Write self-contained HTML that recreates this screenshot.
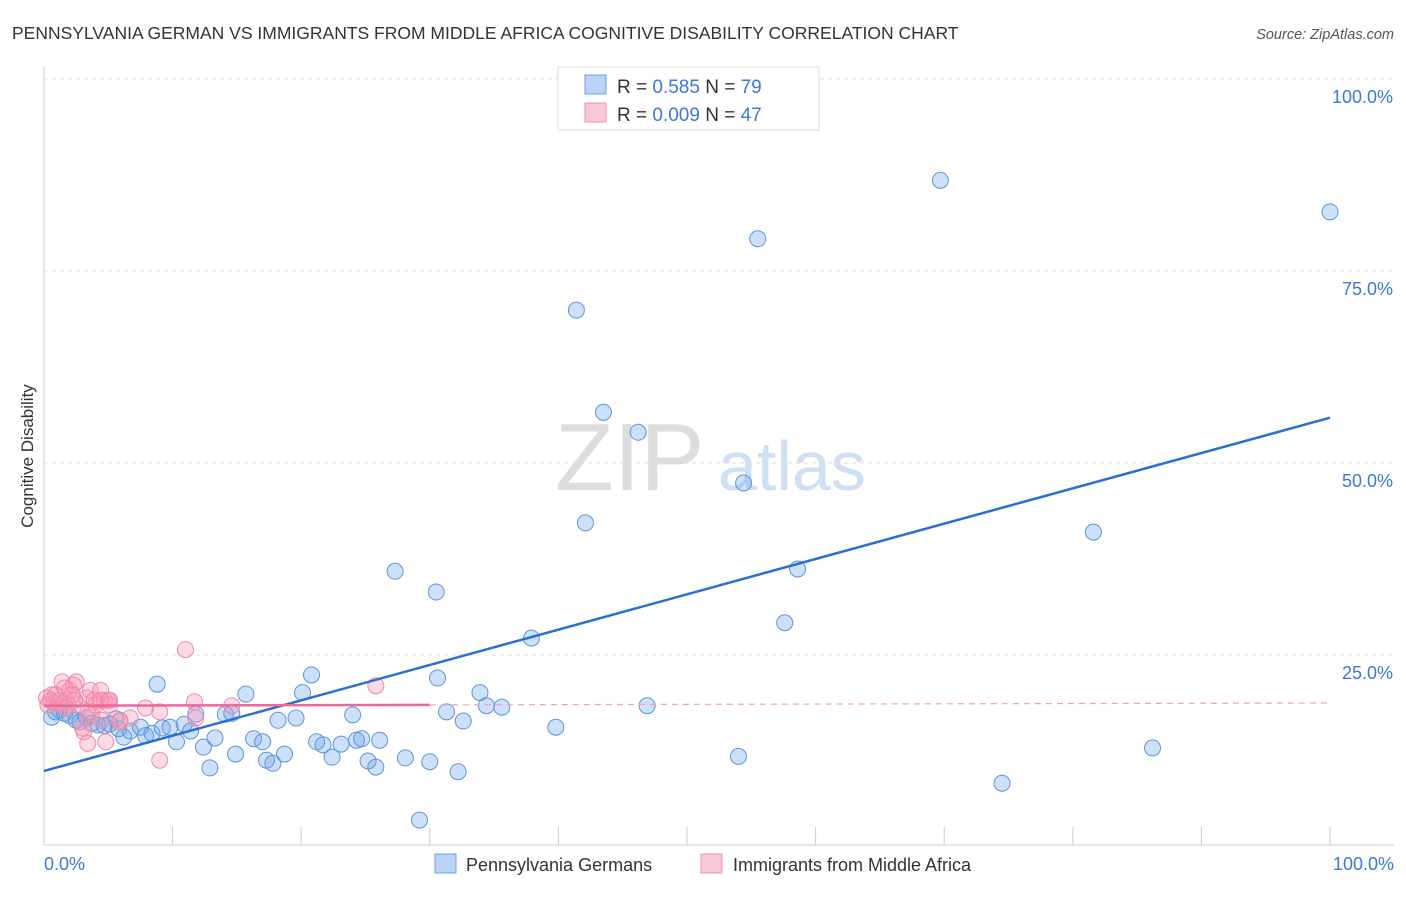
<!DOCTYPE html>
<html><head><meta charset="utf-8"><style>
body{margin:0;background:#fff;font-family:"Liberation Sans",sans-serif;}
svg text{font-family:"Liberation Sans",sans-serif;}
</style></head><body>
<svg id="c" width="1406" height="892" xmlns="http://www.w3.org/2000/svg">
<text x="12" y="39" font-size="17.5" fill="#333">PENNSYLVANIA GERMAN VS IMMIGRANTS FROM MIDDLE AFRICA COGNITIVE DISABILITY CORRELATION CHART</text>
<text x="1394" y="39" font-size="14.5" fill="#555" font-style="italic" text-anchor="end">Source: ZipAtlas.com</text>
<text x="555" y="490" font-size="96" fill="#ddd" font-family="Liberation Serif">ZIP</text>
<text x="718" y="490" font-size="70" fill="#cfe0f4">atlas</text>
<g id="grid"></g><g id="axes"></g><g id="pts"></g><g id="trend"></g>
<text transform="translate(33,456) rotate(-90)" font-size="17" fill="#333" text-anchor="middle">Cognitive Disability</text>
<g>
<rect x="558" y="67" width="261" height="63" fill="#fff" stroke="#ddd"/>
<rect x="585" y="75" width="21" height="19" fill="#b8d3f5" stroke="#6fa0e0"/>
<rect x="585" y="103" width="21" height="19" fill="#f9c9d8" stroke="#f08fb0"/>
<text x="617" y="93" font-size="19" fill="#333">R = <tspan fill="#3b78d8">0.585</tspan>   N = <tspan fill="#3b78d8">79</tspan></text>
<text x="617" y="121" font-size="19" fill="#333">R = <tspan fill="#3b78d8">0.009</tspan>   N = <tspan fill="#3b78d8">47</tspan></text>
</g>
<g>
<rect x="435" y="854" width="21" height="19" fill="#b8d3f5" stroke="#6fa0e0"/>
<text x="466" y="871" font-size="18" fill="#333">Pennsylvania Germans</text>
<rect x="701" y="854" width="21" height="19" fill="#f9c9d8" stroke="#f08fb0"/>
<text x="733" y="871" font-size="18" fill="#333">Immigrants from Middle Africa</text>
</g>
</svg>
<script>
const blueX=[0.6,0.9,1.2,1.6,2.0,2.5,2.8,3.3,3.7,4.2,4.7,5.1,5.6,5.8,6.2,6.7,7.5,7.9,8.4,8.8,9.2,9.8,10.3,10.9,11.4,11.8,12.4,12.9,13.3,14.1,14.6,14.9,15.7,16.3,17.0,17.3,17.8,18.2,18.7,19.6,20.1,20.8,21.2,21.7,22.4,23.1,24.0,24.3,24.7,25.2,25.8,26.1,27.3,28.1,29.2,30.0,30.5,30.6,31.3,32.2,32.6,33.9,34.4,35.6,37.9,39.8,41.4,42.1,43.5,46.2,46.9,54.0,54.4,55.5,57.6,58.6,69.7,74.5,81.6,86.2,100];
const blueY=[16.9,17.6,17.8,17.4,17.1,16.5,16.3,16.8,16.1,15.9,15.8,16.0,16.7,15.4,14.3,15.1,15.6,14.5,14.8,21.2,15.5,15.6,13.7,16.0,15.1,17.3,13.0,10.3,14.2,17.3,17.4,12.1,19.9,14.1,13.7,11.3,10.9,16.5,12.1,16.8,20.1,22.4,13.7,13.3,11.7,13.4,17.2,13.9,14.1,11.2,10.4,13.9,35.9,11.6,3.5,11.1,33.2,22.0,17.6,9.8,16.4,20.1,18.4,18.2,27.2,15.6,69.9,42.2,56.6,54.0,18.4,11.8,47.4,79.2,29.2,36.2,86.8,8.3,41.0,12.9,82.7];
const pinkX=[0.2,0.5,0.8,1.1,1.4,1.7,2.0,2.3,2.5,2.6,3.0,3.1,3.3,3.4,3.6,3.7,3.9,4.0,4.4,4.5,4.7,4.8,5.0,5.1,5.9,6.7,7.9,9.0,11.0,11.7,11.8,14.6,25.8,9.0,1.6,1.9,2.2,0.9,1.2,0.3,0.6,3.4,4.4,5.1,5.9,2.4,1.7];
const pinkY=[19.4,19.1,18.8,18.6,21.5,19.1,20.4,21.1,21.5,18.5,15.5,15.0,19.4,13.5,20.4,17.2,19.1,18.5,20.4,16.5,19.1,13.7,19.1,19.1,16.5,16.8,18.1,17.6,25.7,18.9,16.8,18.4,21.0,11.3,20.7,18.5,19.8,19.8,19.1,18.5,19.8,17.6,19.1,18.5,16.3,19.1,18.1];
const blueTrend=[9.9,55.9];
const pinkTrend=[18.4,18.75];
const yTicks=[25,50,75,100];
const yTickLabels=["25.0%","50.0%","75.0%","100.0%"];
const xTickLabels=["0.0%","100.0%"];
const X=v=>44+v*12.86, Y=v=>847-v*7.68;
const NS="http://www.w3.org/2000/svg";
function mk(p,t,a){const e=document.createElementNS(NS,t);for(const k in a)e.setAttribute(k,a[k]);p.appendChild(e);return e;}
const grid=document.getElementById('grid'),axes=document.getElementById('axes'),pts=document.getElementById('pts'),tr=document.getElementById('trend');
yTicks.forEach((v,i)=>{
 const l=mk(grid,'line',{x1:44,x2:1394,y1:Y(v),y2:Y(v),stroke:'#ddd','stroke-dasharray':'4,4'});
 
 
 const t=mk(axes,'text',{x:1393,y:Y(v)+24,'font-size':18,fill:'#3b78d8','text-anchor':'end'});t.textContent=yTickLabels[i];
 
 
});
const ax=mk(axes,'line',{x1:44,x2:1394,y1:845,y2:845,stroke:'#ccc'});


const ay=mk(axes,'line',{x1:44,x2:44,y1:67,y2:845,stroke:'#ccc'});


for(let i=0;i<=10;i++){const t=mk(axes,'line',{x1:X(i*10),x2:X(i*10),y1:827,y2:845,stroke:'#ccc'});
 
 }
[[0,'start',44],[1,'end',1394]].forEach(([i,a,x])=>{const t=mk(axes,'text',{x:x,y:870,'font-size':18,fill:'#3b78d8','text-anchor':a});t.textContent=xTickLabels[i];
 
 });
blueX.forEach((v,i)=>{const c=mk(pts,'circle',{cx:X(v),cy:Y(blueY[i]),r:8,fill:'rgba(110,165,235,0.35)',stroke:'#5f95dc','stroke-width':1});
 
 });
pinkX.forEach((v,i)=>{const c=mk(pts,'circle',{cx:X(v),cy:Y(pinkY[i]),r:8,fill:'rgba(245,150,180,0.35)',stroke:'#ee8aab','stroke-width':1});
 
 });
const bt=mk(tr,'line',{x1:X(0),y1:Y(blueTrend[0]),x2:X(100),y2:Y(blueTrend[1]),stroke:'#2a6fd6','stroke-width':2.5});


const pm=pinkTrend[0]+(pinkTrend[1]-pinkTrend[0])*0.3;
const pt=mk(tr,'line',{x1:X(0),y1:Y(pinkTrend[0]),x2:X(30),y2:Y(pm),stroke:'#e86a9a','stroke-width':2.5});


const pd=mk(tr,'line',{x1:X(30),y1:Y(pm),x2:X(100),y2:Y(pinkTrend[1]),stroke:'#f0a0bd','stroke-width':1.2,'stroke-dasharray':'6,5'});


</script>
</body></html>
